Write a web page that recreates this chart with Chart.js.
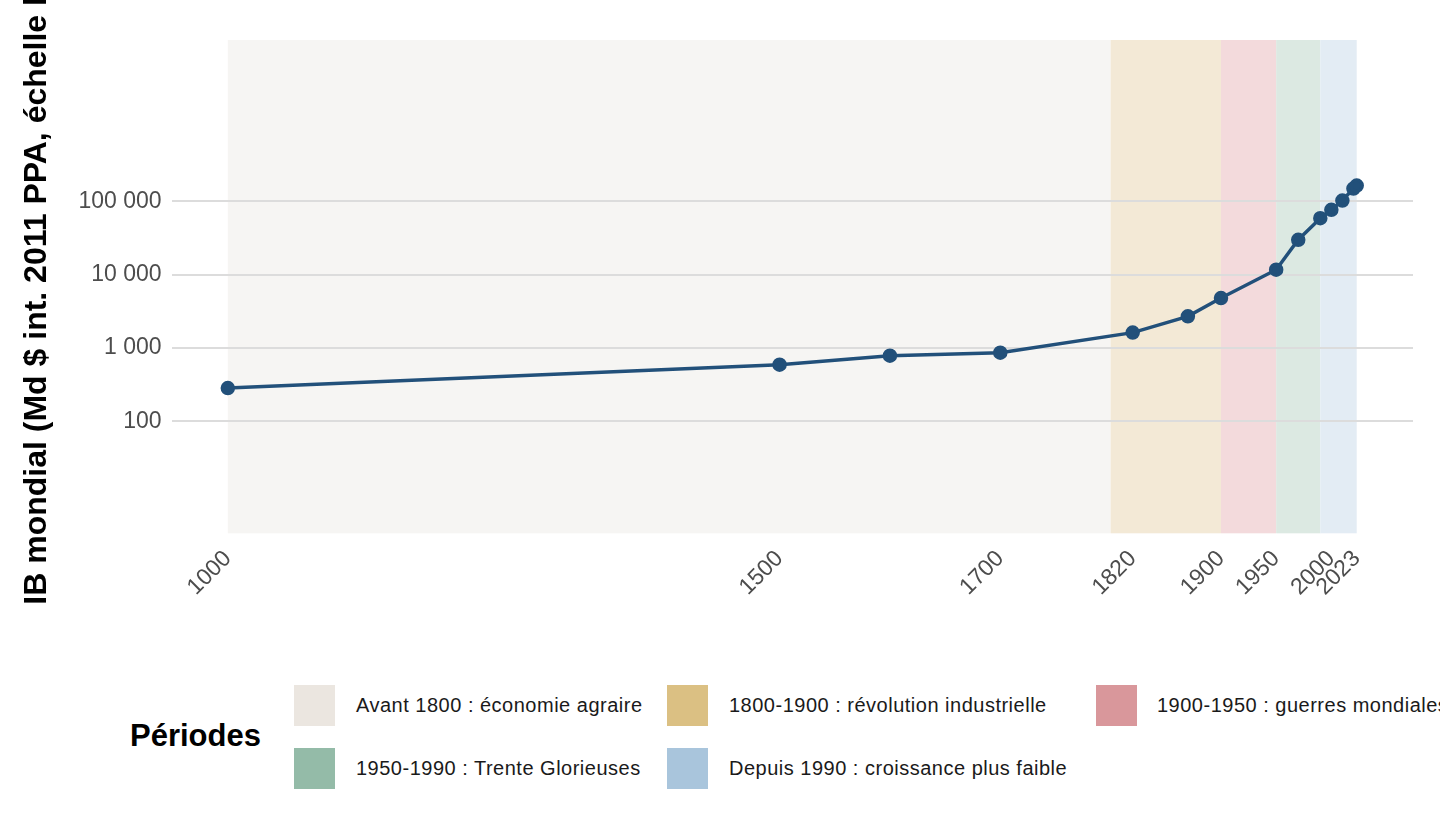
<!DOCTYPE html>
<html><head><meta charset="utf-8">
<script src="https://cdn.jsdelivr.net/npm/chart.js@4"></script>
<style>
body{margin:0;background:#fff;font-family:"Liberation Sans",Arial,sans-serif;}
#wrap{position:absolute;left:0;top:0;width:1440px;height:605px;}
.leg{position:absolute;font-size:20px;letter-spacing:0.5px;color:#1a1a1a;}
.sw{position:absolute;width:41px;height:41px;}
</style></head><body>
<div id="wrap"><canvas id="c"></canvas></div>
<div class="leg" style="left:130px;top:718px;font-size:31px;letter-spacing:0;font-weight:bold;color:#000">Périodes</div>
<div id="legend"></div>
<script>
const years = [1000,1500,1600,1700,1820,1870,1900,1950,1970,1990,2000,2010,2020,2023];
const gdp = [284,590,783,861,1620,2700,4800,11700,30000,59000,77000,103000,150000,165000];
const xTicks = [1000,1500,1700,1820,1900,1950,2000,2023];
const yTicks = [100,1000,10000,100000];
const periodLabels = ["Avant 1800 : économie agraire","1800-1900 : révolution industrielle","1900-1950 : guerres mondiales","1950-1990 : Trente Glorieuses","Depuis 1990 : croissance plus faible"];
const periodStart = [1000,1800,1900,1950,1990];
const periodEnd = [1800,1900,1950,1990,2023];
const bandColors = ["#f6f5f3","#f3e9d6","#f3dadc","#dce9e2","#e3ecf4"];
const swatchColors = ["#ebe6e0","#dbc083","#d9979b","#94bba8","#a9c5dc"];

// legend boxes
const legPos = [[294,685,356],[667,685,729],[1096,685,1157],[294,748,356],[667,748,729]];
const leg = document.getElementById('legend');
periodLabels.forEach((t,i)=>{
  const [sx,sy,tx]=legPos[i];
  leg.innerHTML += `<div class="sw" style="left:${sx}px;top:${sy}px;background:${swatchColors[i]}"></div>
   <div class="leg" style="left:${tx}px;top:${sy+9}px;white-space:nowrap">${t}</div>`;
});

const bands = {
  id:'bands',
  beforeDraw(chart){
    const {ctx, chartArea:a, scales:{x}} = chart;
    ctx.save();
    periodStart.forEach((s,i)=>{
      const x0=x.getPixelForValue(s), x1=x.getPixelForValue(periodEnd[i]);
      ctx.fillStyle=bandColors[i];
      ctx.fillRect(x0,a.top,x1-x0,a.bottom-a.top);
    });
    ctx.restore();
  }
};

new Chart(document.getElementById('c'),{
  type:'line',
  data:{datasets:[{data:years.map((y,i)=>({x:y,y:gdp[i]})),borderColor:'#22507a',backgroundColor:'#22507a',borderWidth:3.5,pointRadius:5.5,pointHoverRadius:5.5,tension:0}]},
  options:{
    responsive:true,maintainAspectRatio:false,animation:false,
    layout:{padding:{top:40,right:27,left:14,bottom:0}},
    plugins:{legend:{display:false},tooltip:{enabled:false}},
    scales:{
      x:{type:'linear',min:949,max:2074,
        afterBuildTicks(s){s.ticks=xTicks.map(v=>({value:v}));},
        grid:{display:false},border:{display:false},
        ticks:{minRotation:45,maxRotation:45,autoSkip:false,color:'#4d4d4d',font:{size:23,family:'Liberation Sans'},padding:4,
          callback:v=>String(v)}
      },
      y:{type:'logarithmic',min:2.95,max:1.6e7,
        afterBuildTicks(s){s.ticks=yTicks.map(v=>({value:v}));},
        grid:{color:'#dcdcdc',lineWidth:2,drawTicks:false},border:{display:false},
        ticks:{color:'#4d4d4d',font:{size:23,family:'Liberation Sans'},padding:10,
          callback:v=>v.toString().replace(/\B(?=(\d{3})+(?!\d))/g,' ')},
        title:{display:true,text:'PIB mondial (Md $ int. 2011 PPA, échelle log)',color:'#000',font:{size:32,weight:'bold',family:'Liberation Sans'},padding:{bottom:12}}
      }
    }
  },
  plugins:[bands]
});
</script>
</body></html>
